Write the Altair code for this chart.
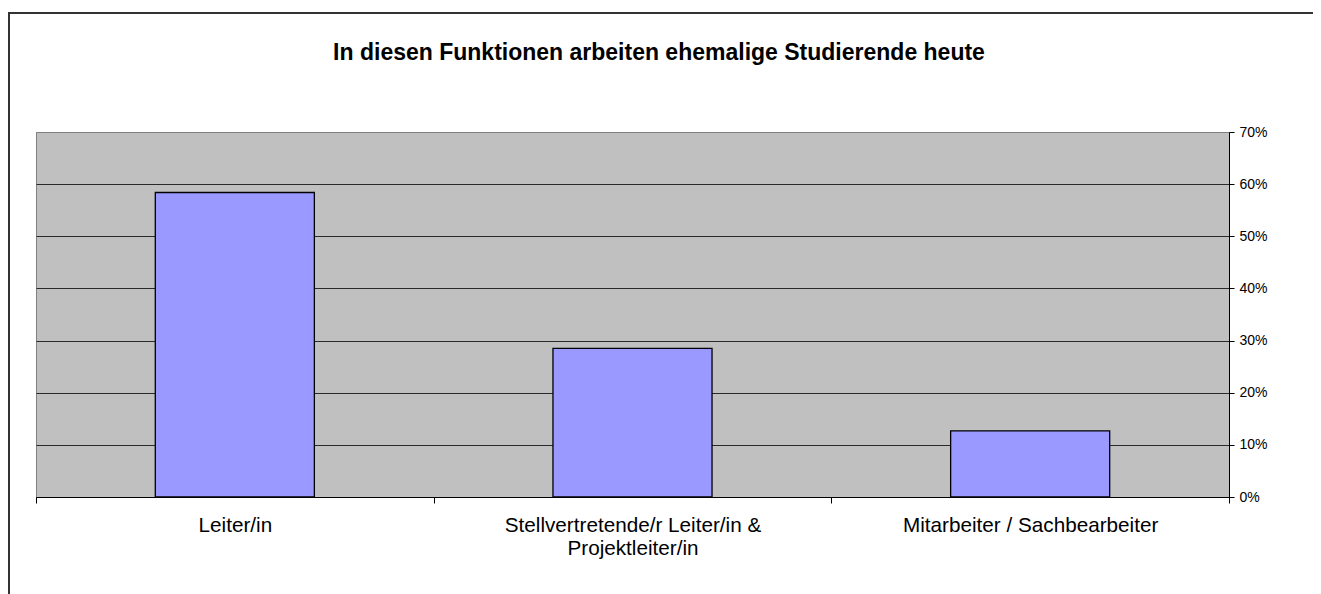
import altair as alt
import pandas as pd

title_text = "In diesen Funktionen arbeiten ehemalige Studierende heute"
categories = ["Leiter/in", "Stellvertretende/r Leiter/in &\nProjektleiter/in", "Mitarbeiter / Sachbearbeiter"]
values = [0.584, 0.285, 0.127]
y_ticks = [0, 0.1, 0.2, 0.3, 0.4, 0.5, 0.6, 0.7]

df = pd.DataFrame({"cat": categories, "val": values})

W, H = 1193, 365
FONT = "Liberation Sans"

bars = alt.Chart(df).mark_bar(
    color="#9999FF", stroke="#000000", strokeWidth=1.3, width={"band": 0.4}
).encode(
    x=alt.X("cat:N", sort=categories, title=None,
            scale=alt.Scale(paddingInner=0, paddingOuter=0),
            axis=alt.Axis(orient="bottom", labelAngle=0, labelFont=FONT, labelFontSize=20.7,
                          labelColor="#000000", labelPadding=12, labelLineHeight=23,
                          labelLimit=0,
                          labelExpr="split(datum.label, '\\n')",
                          tickBand="extent", tickSize=6, tickColor="#000000",
                          domainColor="#000000", domainWidth=1, grid=False,
                          labelBaseline="top")),
    y=alt.Y("val:Q", title=None,
            scale=alt.Scale(domain=[0, 0.7], nice=False),
            axis=alt.Axis(orient="right", values=y_ticks, format=".0%", labelFont=FONT,
                          labelFontSize=14, labelColor="#000000", labelPadding=5,
                          tickSize=5, tickColor="#000000", domainColor="#000000",
                          grid=True,
                          gridColor={"condition": {"test": "datum.value >= 0.7", "value": "#808080"},
                                     "value": "#2a2a2a"},
                          gridWidth=1)),
)

one_df = pd.DataFrame({"t": [title_text]})
border = alt.Chart(one_df).mark_rect(
    fill=None, stroke="#333333", strokeWidth=2, clip=False
).encode(
    x=alt.value(-27), x2=alt.value(1279),
    y=alt.value(-119), y2=alt.value(480),
)

title = alt.Chart(one_df).mark_text(
    font=FONT, fontSize=23, fontWeight="bold", color="#000000",
    align="center", baseline="middle", clip=False
).encode(
    text="t:N", x=alt.value(623), y=alt.value(-79)
)

chart = alt.layer(border, bars, title).properties(
    width=W, height=H,
    padding={"left": 28, "top": 124, "right": 84, "bottom": 100},
    autosize=alt.AutoSizeParams(type="none"),
    background="#ffffff",
).configure_view(
    fill="#C0C0C0", stroke="#808080", strokeWidth=1
)

chart.save("out.html", embed_options={"renderer": "svg", "actions": False})
